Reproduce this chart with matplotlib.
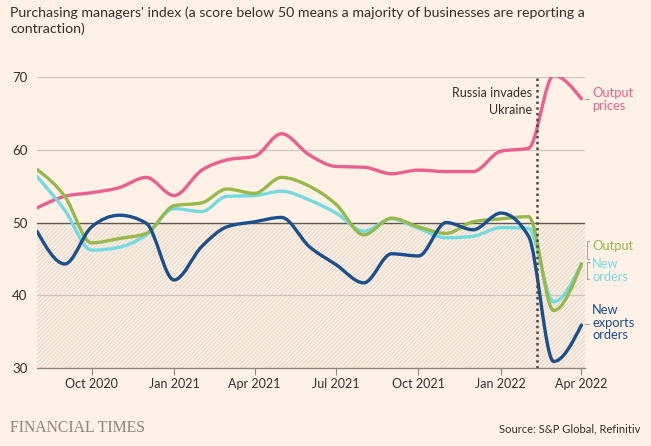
import matplotlib
matplotlib.use("Agg")
import matplotlib.pyplot as plt
import matplotlib.dates as mdates
from matplotlib.path import Path
from matplotlib.patches import PathPatch
import numpy as np
from datetime import datetime

months = ["2020-08", "2020-09", "2020-10", "2020-11", "2020-12",
          "2021-01", "2021-02", "2021-03", "2021-04", "2021-05", "2021-06",
          "2021-07", "2021-08", "2021-09", "2021-10", "2021-11", "2021-12",
          "2022-01", "2022-02", "2022-03", "2022-04"]

output_prices = [52.0, 53.6, 54.1, 54.8, 56.2, 53.7, 57.2, 58.6, 59.1, 62.2, 59.3,
                 57.7, 57.6, 56.7, 57.2, 57.0, 57.0, 59.8, 60.2, 70.2, 67.0]
output = [57.3, 53.6, 47.2, 47.8, 48.5, 52.3, 52.7, 54.6, 54.0, 56.2, 55.0,
          52.5, 48.3, 50.6, 49.4, 48.5, 50.1, 50.5, 50.8, 37.9, 44.3]
new_orders = [56.3, 51.7, 46.2, 46.6, 48.3, 51.9, 51.5, 53.6, 53.7, 54.3, 53.1,
              51.3, 48.8, 50.5, 49.2, 47.9, 48.1, 49.3, 49.2, 39.1, 44.3]
new_export_orders = [48.8, 44.3, 49.4, 51.0, 49.9, 42.1, 46.7, 49.4, 50.1, 50.7, 46.7,
                     44.2, 41.7, 45.7, 45.4, 50.0, 49.0, 51.3, 48.1, 30.9, 35.9]

tick_dates = ["2020-10", "2021-01", "2021-04", "2021-07", "2021-10", "2022-01", "2022-04"]
invasion_date = "2022-02-10"

BG = "#fff1e5"
TEXT = "#33302e"
GRID = "#cec6bd"

plt.rcParams["font.family"] = ["Lato", "DejaVu Sans"]
plt.rcParams["hatch.linewidth"] = 0.7

x = mdates.date2num([datetime.strptime(m, "%Y-%m") for m in months])


def monotone_path(xs, ys):
    # bezier path like d3 curveMonotoneX
    xs = np.asarray(xs, float)
    ys = np.asarray(ys, float)
    n = len(xs)
    h = np.diff(xs)
    s = np.diff(ys) / h
    t = np.zeros(n)
    for i in range(1, n - 1):
        p = (s[i - 1] * h[i] + s[i] * h[i - 1]) / (h[i - 1] + h[i])
        t[i] = (np.sign(s[i - 1]) + np.sign(s[i])) * min(abs(s[i - 1]), abs(s[i]), 0.5 * abs(p))
    t[0] = (3 * s[0] - t[1]) / 2
    t[-1] = (3 * s[-1] - t[-2]) / 2
    verts = [(xs[0], ys[0])]
    codes = [Path.MOVETO]
    for i in range(n - 1):
        d = h[i] / 3
        verts += [(xs[i] + d, ys[i] + d * t[i]),
                  (xs[i + 1] - d, ys[i + 1] - d * t[i + 1]),
                  (xs[i + 1], ys[i + 1])]
        codes += [Path.CURVE4] * 3
    return Path(verts, codes)


fig = plt.figure(figsize=(6.51, 4.46), dpi=100, facecolor=BG)
ax = fig.add_axes([37 / 651, 1 - 368 / 446, 548 / 651, 291 / 446])
ax.set_facecolor(BG)

x0 = x[0]
x1 = mdates.date2num(datetime(2022, 4, 5))
ax.set_xlim(x0, x1)
ax.set_ylim(30, 70)

ax.fill_between([x0, x1], 30, 50, facecolor="none", edgecolor="#e2d3c5",
                hatch="////////", linewidth=0, zorder=1)

for v in [40, 60, 70]:
    ax.axhline(v, color=GRID, linewidth=0.9, zorder=2)
ax.axhline(50, color="#5f5753", linewidth=1.0, zorder=2)

series = [
    (output_prices, "#eb5f8e"),
    (new_orders, "#72dbe2"),
    (output, "#97b94c"),
    (new_export_orders, "#1a4f8d"),
]
for ys, col in series:
    patch = PathPatch(monotone_path(x, ys), facecolor="none", edgecolor=col,
                      linewidth=2.4, capstyle="round", joinstyle="round", zorder=4)
    ax.add_patch(patch)

xi = mdates.date2num(datetime.strptime(invasion_date, "%Y-%m-%d"))
ax.axvline(xi, color="#4d4845", linewidth=1.8, linestyle=(0, (1, 1.3)), zorder=5)
ax.text(xi - 5, 68.6, "Russia invades\nUkraine", ha="right", va="top",
        fontsize=9, color=TEXT, linespacing=1.5, zorder=6)

for s in ["top", "right", "left"]:
    ax.spines[s].set_visible(False)
ax.spines["bottom"].set_color("#8f8680")
ax.spines["bottom"].set_linewidth(1.0)

ax.set_yticks([30, 40, 50, 60, 70])
ax.tick_params(axis="y", length=0, labelsize=9.5, labelcolor=TEXT, pad=18)
for lab in ax.get_yticklabels():
    lab.set_horizontalalignment("left")

tick_nums = mdates.date2num([datetime.strptime(d, "%Y-%m") for d in tick_dates])
ax.set_xticks(tick_nums)
ax.set_xticklabels([datetime.strptime(d, "%Y-%m").strftime("%b %Y") for d in tick_dates])
ax.tick_params(axis="x", length=5, width=0.8, color="#8f8680", labelsize=9,
               labelcolor=TEXT, pad=2)

# end labels
lx = x[-1] + 12
ax.text(lx, 66.9, "Output\nprices", color="#eb5f8e", fontsize=9.3, va="center",
        ha="left", linespacing=1.05)
ax.plot([x[-1] + 4, x[-1] + 8], [67.0, 67.0], color="#b0a79f", lw=0.8, clip_on=False)
ax.text(lx, 46.8, "Output", color="#97b94c", fontsize=9.3, va="center", ha="left")
ax.text(lx, 43.4, "New\norders", color="#72dbe2", fontsize=9.3, va="center",
        ha="left", linespacing=1.05)
ax.plot([x[-1] + 9, x[-1] + 6, x[-1] + 6, x[-1] + 9], [47.5, 47.5, 45.0, 45.0],
        color="#b0a79f", lw=0.8, clip_on=False)
ax.plot([x[-1] + 9, x[-1] + 6, x[-1] + 6, x[-1] + 9], [44.6, 44.6, 42.2, 42.2],
        color="#b0a79f", lw=0.8, clip_on=False)
ax.text(lx, 36.2, "New\nexports\norders", color="#1a4f8d", fontsize=9.3, va="center",
        ha="left", linespacing=1.05)
ax.plot([x[-1] + 4, x[-1] + 8], [36.0, 36.0], color="#b0a79f", lw=0.8, clip_on=False)

fig.text(10 / 651, 1 - 6 / 446,
         "Purchasing managers' index (a score below 50 means a majority of businesses are reporting a\ncontraction)",
         ha="left", va="top", fontsize=10.2, color=TEXT, linespacing=1.4)

fig.text(10 / 651, 1 - 428 / 446, "FINANCIAL TIMES", family=["Liberation Serif", "DejaVu Serif"],
         fontsize=11.3, color="#8c837d", ha="left", va="center")
fig.text(640 / 651, 1 - 429 / 446, "Source: S&P Global, Refinitiv", fontsize=8,
         color=TEXT, ha="right", va="center")

fig.savefig("out.png", dpi=100, facecolor=BG)
